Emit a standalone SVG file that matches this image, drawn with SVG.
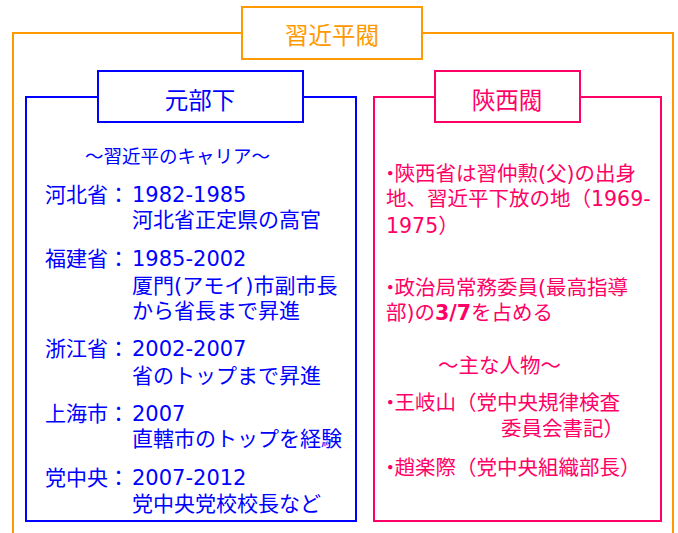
<svg xmlns="http://www.w3.org/2000/svg" width="678" height="533" viewBox="0 0 678 533">
<style>
text{font-family:"DejaVu Sans","Noto Sans CJK JP",sans-serif;}
.o{stroke:#FF9900;stroke-width:2;fill:none}
.ob{stroke:#FF9900;stroke-width:2;fill:#fff}
.b{stroke:#0000FF;stroke-width:2;fill:none}
.bb{stroke:#0000FF;stroke-width:2;fill:#fff}
.p{stroke:#FF0066;stroke-width:2;fill:none}
.pb{stroke:#FF0066;stroke-width:2;fill:#fff}
.tt{font-size:23.5px;text-anchor:middle}
.bt{fill:#0000FF;font-size:21px}
.pt{fill:#FF0066;font-size:20.5px}
.dot{letter-spacing:-6px}
</style>
<rect width="678" height="533" fill="#fff"/>
<g id="shuu">
<rect class="o" x="13" y="33" width="660" height="540"/>
<rect class="ob" x="242" y="7" width="180" height="52"/>
<text class="tt" x="332" y="44" fill="#FF9900">習近平閥</text>
</g>
<g id="motobuka">
<rect class="b" x="26" y="97" width="330" height="424"/>
<rect class="bb" x="98" y="71" width="205" height="51"/>
<text class="tt" x="200" y="109" fill="#0000FF">元部下</text>
<g class="bt">
<text x="85" y="163" style="font-size:18.5px">～習近平のキャリア～</text>
<text x="45" y="202">河北省：</text><text x="132" y="202">1982-1985</text>
<text x="132" y="227">河北省正定県の高官</text>
<text x="45" y="266">福建省：</text><text x="132" y="266">1985-2002</text>
<text x="132" y="293">厦門(アモイ)市副市長</text>
<text x="132" y="318">から省長まで昇進</text>
<text x="45" y="356">浙江省：</text><text x="132" y="356">2002-2007</text>
<text x="132" y="383">省のトップまで昇進</text>
<text x="45" y="421">上海市：</text><text x="132" y="421">2007</text>
<text x="132" y="446">直轄市のトップを経験</text>
<text x="45" y="485">党中央：</text><text x="132" y="485">2007-2012</text>
<text x="132" y="511">党中央党校校長など</text>
</g>
</g>
<g id="shaanxi">
<rect class="p" x="374" y="97" width="287" height="424"/>
<rect class="pb" x="435" y="71" width="145" height="51"/>
<text class="tt" x="507" y="109" fill="#FF0066">陝西閥</text>
<g class="pt">
<text x="380" y="181"><tspan class="dot">・</tspan>陝西省は習仲勲(父)の出身</text>
<text x="386" y="206">地、習近平下放の地（1969-</text>
<text x="386" y="233">1975）</text>
<text x="380" y="295"><tspan class="dot">・</tspan>政治局常務委員(最高指導</text>
<text x="386" y="320">部)の<tspan font-weight="bold">3/7</tspan>を占める</text>
<text x="438" y="373">～主な人物～</text>
<text x="380" y="410"><tspan class="dot">・</tspan>王岐山（党中央規律検査</text>
<text x="501" y="436">委員会書記）</text>
<text x="380" y="475"><tspan class="dot">・</tspan>趙楽際（党中央組織部長）</text>
</g>
</g>
</svg>
